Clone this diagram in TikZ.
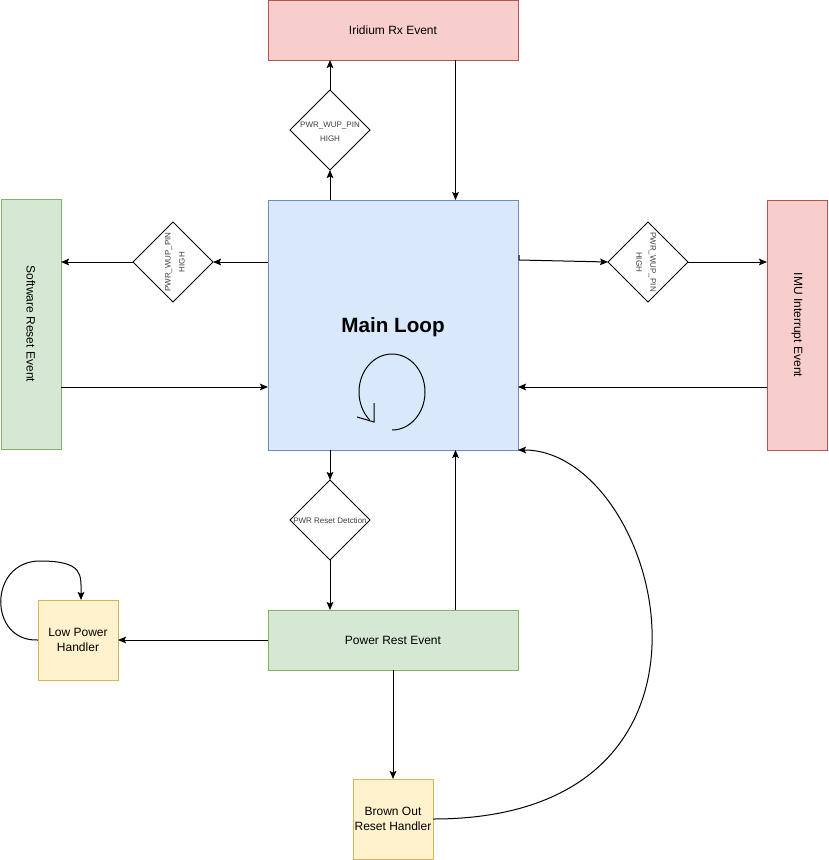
\documentclass[tikz,border=0pt]{standalone}
\usepackage{fontspec}
\setmainfont{Liberation Sans}
\usetikzlibrary{shapes.geometric,arrows.meta,calc}
\definecolor{redf}{HTML}{F8CECC}\definecolor{redd}{HTML}{B85450}
\definecolor{bluef}{HTML}{DAE8FC}\definecolor{blued}{HTML}{6C8EBF}
\definecolor{greenf}{HTML}{D5E8D4}\definecolor{greend}{HTML}{82B366}
\definecolor{yelf}{HTML}{FFF2CC}\definecolor{yeld}{HTML}{D6B656}
\begin{document}
\begin{tikzpicture}[x=0.75pt,y=-0.75pt,
  box/.style={rectangle,inner sep=0pt,outer sep=0pt,line width=0.75pt,font=\fontsize{9}{11.25}\selectfont,align=center},
  redbox/.style={box,fill=redf,draw=redd},
  bluebox/.style={box,fill=bluef,draw=blued},
  greenbox/.style={box,fill=greenf,draw=greend},
  yelbox/.style={box,fill=yelf,draw=yeld},
  dia/.style={diamond,aspect=1,minimum width=60pt,minimum height=60pt,inner sep=0pt,outer sep=0pt,draw=black,fill=white,line width=0.75pt},
  dtext/.style={font=\fontsize{6}{10.5}\selectfont,align=center,text=black!75,inner sep=0pt},
  arr/.style={line width=0.75pt,-{Stealth[length=6pt,width=5pt,inset=1.2pt]}}
]
\useasboundingbox (0,0) rectangle (828,860);
\node[redbox,minimum width=187.5pt,minimum height=45pt] (irid) at (393,30) {Iridium Rx Event};
\node[bluebox,minimum width=187.5pt,minimum height=187.5pt] (main) at (393,325) {};
\node[font=\fontsize{15.5}{18}\selectfont\bfseries,inner sep=0pt] (mainlbl) at (393,327) {Main Loop};
\node[greenbox,minimum width=45pt,minimum height=187.5pt] (sw) at (31,324) {};
\node[font=\fontsize{9}{11}\selectfont,rotate=-90,inner sep=0pt] (swlbl) at (31,324) {Software Reset Event};
\node[redbox,minimum width=45pt,minimum height=187.5pt] (imu) at (797,325) {};
\node[font=\fontsize{9}{11}\selectfont,rotate=-90,inner sep=0pt] (imulbl) at (797,325) {IMU Interrupt Event};
\node[dia] (dtop) at (330,130) {};
\node[dtext] (dtoplbl) at (330,132) {PWR\_WUP\_PIN\\HIGH};
\node[dia] (dleft) at (173,262) {};
\node[dtext,rotate=90] (dleftlbl) at (175,262) {PWR\_WUP\_PIN\\HIGH};
\node[dia] (dright) at (648,262) {};
\node[dtext,rotate=-90] (drightlbl) at (646,262) {PWR\_WUP\_PIN\\HIGH};
\node[dia] (dbot) at (330,520) {};
\node[dtext] (dbotlbl) at (330,521) {PWR Reset Detction};
\node[greenbox,minimum width=187.5pt,minimum height=45pt] (pre) at (393,640) {Power Rest Event};
\node[yelbox,minimum width=60pt,minimum height=60pt] (lph) at (78,640) {Low Power\\Handler};
\node[yelbox,minimum width=60pt,minimum height=60pt] (bor) at (393,819) {Brown Out\\Reset Handler};
% loop symbol
\draw[line width=0.75pt] (392,430) arc[start angle=90,end angle=-227,x radius=33,y radius=38];
\draw[line width=0.75pt] (374,403) -- (374,422) -- (357,417);
% connectors
\draw[arr] (main.north -| dtop) -- (dtop.south);
\draw[arr] (dtop.north) -- (irid.south -| dtop);
\coordinate (ir75) at ($(irid.south west)!0.75!(irid.south east)$);
\draw[arr] (ir75) -- (main.north -| ir75);
\draw[arr] (main.west |- dleft) -- (dleft.east);
\draw[arr] (dleft.west) -- (sw.east |- dleft);
\draw[arr] ($(sw.east)+(0,63)$) -- ($(main.west)+(0,62)$);
\draw[arr] ($(main.east)+(1,-70)$) -- ++(0,5) -- (dright.west);
\draw[arr] (dright.east) -- (imu.west |- dright);
\draw[arr] ($(imu.west)+(0,62)$) -- ($(main.east)+(0,62)$);
\draw[arr] (main.south -| dbot) -- (dbot.north);
\draw[arr] (dbot.south) -- (pre.north -| dbot);
\coordinate (pr75) at ($(pre.north west)!0.75!(pre.north east)$);
\draw[arr] (pr75) -- (main.south -| pr75);
\draw[arr] (pre.west) -- (lph.east);
\draw[arr] (pre.south) -- (bor.north);
\draw[arr] (bor.east) .. controls (760,819) and (660,450) .. (main.south east);
\draw[arr] (lph.west) .. controls (-12,642) and (-12,561) .. (40,561) .. controls (84,561) and (81,575) .. ($(lph.north)+(3,0)$);
\end{tikzpicture}
\end{document}
